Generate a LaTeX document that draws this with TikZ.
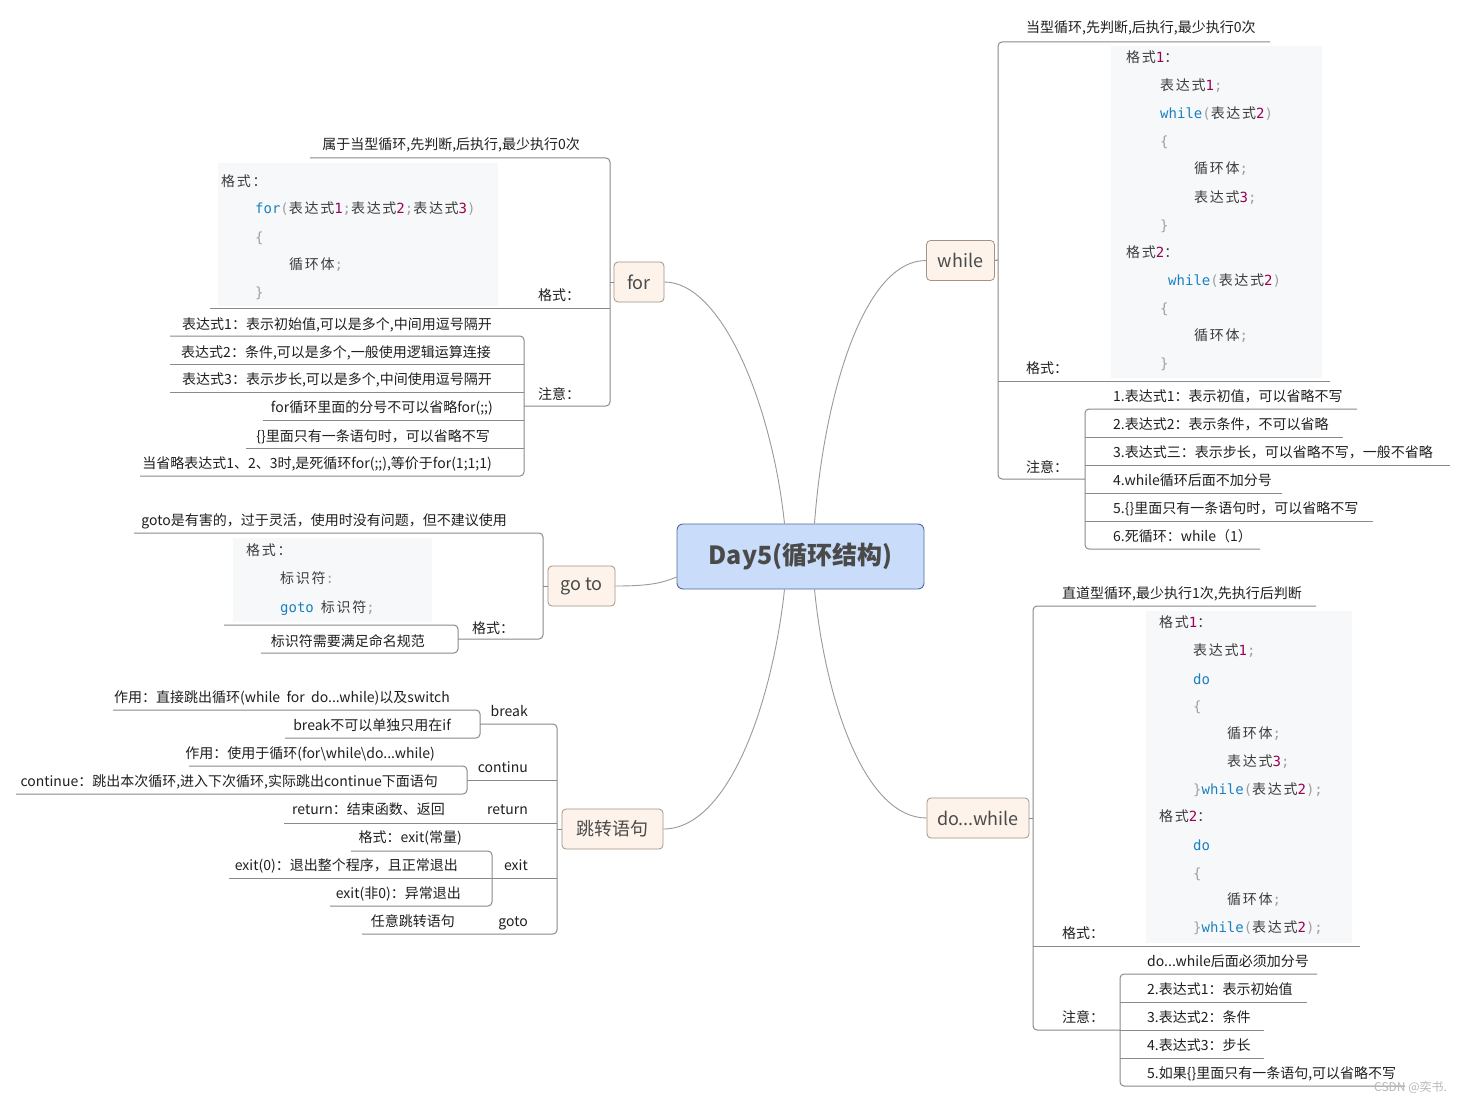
\documentclass[tikz,border=0pt]{standalone}
\usepackage{fontspec}
\setmainfont{Noto Sans CJK SC}
\newfontfamily\codemono{DejaVu Sans Mono}
\newfontfamily\codecjk{Noto Sans CJK SC}[LetterSpace=12]
\definecolor{txt}{HTML}{1F1F1F}
\definecolor{codetxt}{HTML}{3C3C3C}
\definecolor{codebgc}{HTML}{F7F8FA}
\definecolor{kwc}{HTML}{1A80C0}
\definecolor{numc}{HTML}{990055}
\definecolor{punc}{HTML}{A0A0A0}
\definecolor{treec}{HTML}{8A8A8A}
\definecolor{connc}{HTML}{9A9A9A}
\definecolor{brf}{HTML}{FDF3EA}
\definecolor{brd}{HTML}{A39286}
\definecolor{cenf}{HTML}{C9DCF9}
\definecolor{cend}{HTML}{4E6A9C}
\definecolor{centxt}{HTML}{4A4A4A}
\definecolor{wmc}{HTML}{B8B8B8}
\newcommand{\cKw}[1]{{\codemono\color{kwc}#1}}
\newcommand{\cNum}[1]{{\codemono\color{numc}#1}}
\newcommand{\cPun}[1]{{\codemono\color{punc}#1}}
\tikzset{
  lbl/.style={inner sep=0pt, font=\fontsize{14}{16}\selectfont, text=txt},
  lblL/.style={lbl, anchor=base east},
  lblR/.style={lbl, anchor=base west},
  code/.style={inner sep=0pt, anchor=base west, font=\codecjk\fontsize{14}{16}\selectfont, text=codetxt},
  codebox/.style={fill=codebgc, draw=none, inner sep=0pt, anchor=north west},
  tree/.style={draw=treec, line width=1pt, rounded corners=4pt},
  conn/.style={draw=connc, line width=0.9pt},
  branch/.style={draw=brd, fill=brf, rounded corners=4pt, line width=0.8pt, inner sep=0pt,
     minimum height=40pt, font=\fontsize{18}{20}\selectfont, text=centxt},
  central/.style={draw=cend, fill=cenf, rounded corners=6pt, line width=0.9pt, inner sep=0pt,
     minimum width=247pt, minimum height=65pt, font=\fontsize{25}{28}\selectfont\bfseries, text=centxt},
}
\begin{document}
\begin{tikzpicture}[x=1pt,y=-1pt]
\fill[white] (0,0) rectangle (1466,1102);
\useasboundingbox (0,0) rectangle (1466,1102);

% ---------- central and branches ----------
\node[central] (main) at (800.5,556.5) {Day5(循环结构)};
\node[branch, minimum width=50pt] (for) at (639,282) {for};
\node[branch, minimum width=68pt] (while) at (960.5,260.5) {while};
\node[branch, minimum width=67pt] (goto) at (581.5,586) {go to};
\node[branch, minimum width=101pt] (jump) at (612.5,829) {跳转语句};
\node[branch, minimum width=102pt] (dowhile) at (978,818) {do...while};

\draw[conn] (for.east) .. controls (722,282) and (772,405) .. ([xshift=-16pt]main.north);
\draw[conn] (while.west) .. controls (864,260) and (824,395) .. ([xshift=14pt]main.north);
\draw[conn] (goto.east) .. controls (650,586) and (662,583) .. ([yshift=-20.5pt]main.west);
\draw[conn] (jump.east) .. controls (728,829) and (772,705) .. ([xshift=-16pt]main.south);
\draw[conn] (dowhile.west) .. controls (866,818) and (826,705) .. ([xshift=14pt]main.south);

% ---------- for ----------
\draw[tree] (310,158) -- (610,158) -- (610,406) -- (524,406);
\draw[tree] (210,308) -- (610,308);
\draw[tree] (610,282) -- (for.west);
\draw[tree] (170,336) -- (524,336) -- (524,476) -- (140,476);
\draw[tree] (170,364) -- (524,364);
\draw[tree] (170,392) -- (524,392);
\draw[tree] (263,420) -- (524,420);
\draw[tree] (246,448) -- (524,448);

\node[lblL] (fdesc) at (580,150) {属于当型循环,先判断,后执行,最少执行0次};
\node[codebox, minimum width=280pt, minimum height=143pt] (fcode) at (218,163) {};
\node[code] (fc1) at (221,186) {格式：};
\node[code] (fc2) at (255,214) {\cKw{for}\cPun{(}表达式\cNum{1}\cPun{;}表达式\cNum{2}\cPun{;}表达式\cNum{3}\cPun{)}};
\node[code] (fc3) at (255,242) {\cPun{\{}};
\node[code] (fc4) at (289,269) {循环体\cPun{;}};
\node[code] (fc5) at (255,297) {\cPun{\}}};
\node[lblR] (fgs) at (538,300) {格式：};
\node[lblR] (fzy) at (538,399) {注意：};
\node[lblL] (fn1) at (492,329) {表达式1：表示初始值,可以是多个,中间用逗号隔开};
\node[lblL] (fn2) at (491,357) {表达式2：条件,可以是多个,一般使用逻辑运算连接};
\node[lblL] (fn3) at (492,384) {表达式3：表示步长,可以是多个,中间使用逗号隔开};
\node[lblL] (fn4) at (493,412) {for循环里面的分号不可以省略for(;;)};
\node[lblL] (fn5) at (490,441) {\{\}里面只有一条语句时，可以省略不写};
\node[lblL] (fn6) at (492,468) {当省略表达式1、2、3时,是死循环for(;;),等价于for(1;1;1)};

% ---------- go to ----------
\draw[tree] (134,533) -- (543,533) -- (543,639) -- (458,639);
\draw[tree] (224,625) -- (458,625) -- (458,653) -- (261,653);
\draw[tree] (543,586) -- (goto.west);
\node[lblL] (gdesc) at (507,525) {goto是有害的，过于灵活，使用时没有问题，但不建议使用};
\node[codebox, minimum width=199pt, minimum height=84pt] (gcode) at (233,538) {};
\node[code] (gc1) at (246,555) {格式：};
\node[code] (gc2) at (280,583) {标识符\cPun{:}};
\node[code] (gc3) at (280,612) {\cKw{goto}\hspace{7pt}标识符\cPun{;}};
\node[lblL] (gn1) at (425,646) {标识符需要满足命名规范};
\node[lblR] (ggs) at (472,633) {格式：};

% ---------- jump statements ----------
\draw[tree] (113,710) -- (480,710) -- (480,738) -- (285,738);
\draw[tree] (480,724) -- (557,724) -- (557,934) -- (362,934);
\draw[tree] (189,766) -- (467,766) -- (467,794) -- (16,794);
\draw[tree] (467,780) -- (557,780);
\draw[tree] (284,823) -- (557,823);
\draw[tree] (351,851) -- (492,851) -- (492,906) -- (330,906);
\draw[tree] (229,878) -- (557,878);
\draw[tree] (557,829) -- (jump.west);

\node[lblL] (j1) at (450,702) {作用：直接跳出循环(while\ \ for\ \ do...while)以及switch};
\node[lblL] (jbreak) at (528,716) {break};
\node[lblL] (j2) at (451,730) {break不可以单独只用在if};
\node[lblL] (j3) at (435,758) {作用：使用于循环(for\textbackslash while\textbackslash do...while)};
\node[lblL] (jcont) at (528,772) {continu};
\node[lblL] (j4) at (438,786) {continue：跳出本次循环,进入下次循环,实际跳出continue下面语句};
\node[lblL] (j5) at (445,814) {return：结束函数、返回};
\node[lblL] (jret) at (528,814) {return};
\node[lblL] (j6) at (462,842) {格式：exit(常量)};
\node[lblL] (j7) at (458,870) {exit(0)：退出整个程序，且正常退出};
\node[lblL] (jexit) at (528,870) {exit};
\node[lblL] (j8) at (461,898) {exit(非0)：异常退出};
\node[lblL] (j9) at (455,926) {任意跳转语句};
\node[lblL] (jgoto) at (528,926) {goto};

% ---------- while ----------
\draw[tree] (1270,42) -- (998,42) -- (998,479) -- (1085,479);
\draw[tree] (998,381) -- (1330,381);
\draw[tree] (while.east) -- (998,260);
\draw[tree] (1357,409) -- (1085,409) -- (1085,549) -- (1260,549);
\draw[tree] (1085,437) -- (1343,437);
\draw[tree] (1085,465) -- (1450,465);
\draw[tree] (1085,493) -- (1282,493);
\draw[tree] (1085,521) -- (1373,521);

\node[lblR] (wdesc) at (1026,33) {当型循环,先判断,后执行,最少执行0次};
\node[codebox, minimum width=211pt, minimum height=332pt] (wcode) at (1111,46) {};
\node[code] (wc1) at (1126,63) {格式\cNum{1}：};
\node[code] (wc2) at (1160,91) {表达式\cNum{1}\cPun{;}};
\node[code] (wc3) at (1160,119) {\cKw{while}\cPun{(}表达式\cNum{2}\cPun{)}};
\node[code] (wc4) at (1160,147) {\cPun{\{}};
\node[code] (wc5) at (1194,174) {循环体\cPun{;}};
\node[code] (wc6) at (1194,202) {表达式\cNum{3}\cPun{;}};
\node[code] (wc7) at (1160,230) {\cPun{\}}};
\node[code] (wc8) at (1126,257) {格式\cNum{2}：};
\node[code] (wc9) at (1168,285) {\cKw{while}\cPun{(}表达式\cNum{2}\cPun{)}};
\node[code] (wc10) at (1160,313) {\cPun{\{}};
\node[code] (wc11) at (1194,340) {循环体\cPun{;}};
\node[code] (wc12) at (1160,368) {\cPun{\}}};
\node[lblR] (wgs) at (1026,373) {格式：};
\node[lblR] (wzy) at (1026,472) {注意：};
\node[lblR] (wn1) at (1113,401) {1.表达式1：表示初值，可以省略不写};
\node[lblR] (wn2) at (1113,429) {2.表达式2：表示条件，不可以省略};
\node[lblR] (wn3) at (1113,457) {3.表达式三：表示步长，可以省略不写，一般不省略};
\node[lblR] (wn4) at (1113,485) {4.while循环后面不加分号};
\node[lblR] (wn5) at (1113,513) {5.\{\}里面只有一条语句时，可以省略不写};
\node[lblR] (wn6) at (1113,541) {6.死循环：while（1）};

% ---------- do...while ----------
\draw[tree] (1316,606) -- (1033,606) -- (1033,1030) -- (1120,1030);
\draw[tree] (1033,946) -- (1360,946);
\draw[tree] (dowhile.east) -- (1033,818);
\draw[tree] (1317,974) -- (1120,974) -- (1120,1086) -- (1405,1086);
\draw[tree] (1120,1002) -- (1307,1002);
\draw[tree] (1120,1030) -- (1264,1030);
\draw[tree] (1120,1058) -- (1264,1058);

\node[lblR] (ddesc) at (1062,598) {直道型循环,最少执行1次,先执行后判断};
\node[codebox, minimum width=206pt, minimum height=332pt] (dcode) at (1146,611) {};
\node[code] (dc1) at (1159,627) {格式\cNum{1}：};
\node[code] (dc2) at (1193,655) {表达式\cNum{1}\cPun{;}};
\node[code] (dc3) at (1193,684) {\cKw{do}};
\node[code] (dc4) at (1193,711) {\cPun{\{}};
\node[code] (dc5) at (1227,738) {循环体\cPun{;}};
\node[code] (dc6) at (1227,766) {表达式\cNum{3}\cPun{;}};
\node[code] (dc7) at (1193,794) {\cPun{\}}\cKw{while}\cPun{(}表达式\cNum{2}\cPun{);}};
\node[code] (dc8) at (1159,821) {格式\cNum{2}：};
\node[code] (dc9) at (1193,850) {\cKw{do}};
\node[code] (dc10) at (1193,878) {\cPun{\{}};
\node[code] (dc11) at (1227,904) {循环体\cPun{;}};
\node[code] (dc12) at (1193,932) {\cPun{\}}\cKw{while}\cPun{(}表达式\cNum{2}\cPun{);}};
\node[lblR] (dgs) at (1062,938) {格式：};
\node[lblR] (dzy) at (1062,1022) {注意：};
\node[lblR] (dn1) at (1147,966) {do...while后面必须加分号};
\node[lblR] (dn2) at (1147,994) {2.表达式1：表示初始值};
\node[lblR] (dn3) at (1147,1022) {3.表达式2：条件};
\node[lblR] (dn4) at (1147,1050) {4.表达式3：步长};
\node[lblR] (dn5) at (1147,1078) {5.如果\{\}里面只有一条语句,可以省略不写};

\node[inner sep=0pt, anchor=base west, font=\fontsize{12}{14}\selectfont, text=wmc] (wm) at (1374,1091) {CSDN @奕书.};
\end{tikzpicture}
\end{document}
